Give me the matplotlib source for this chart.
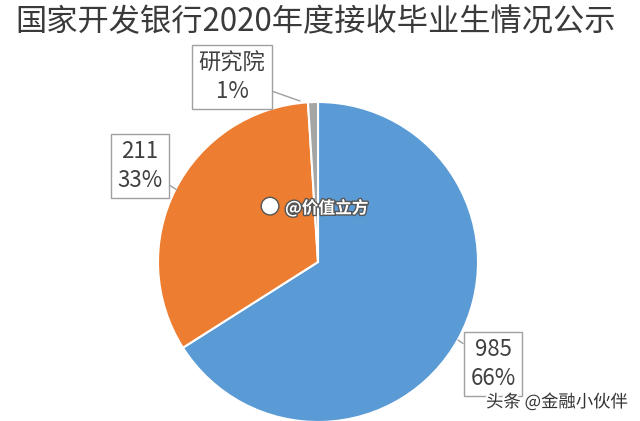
import matplotlib
matplotlib.use("Agg")
import matplotlib.pyplot as plt
import matplotlib.patheffects as pe
import numpy as np

plt.rcParams['font.family'] = ['Noto Sans CJK SC', 'DejaVu Sans']

title = "国家开发银行2020年度接收毕业生情况公示"
categories = ["985", "211", "研究院"]
shares = [66, 33, 1]
colors = ["#5B9BD5", "#ED7D31", "#A5A5A5"]

W, H = 640, 421
fig = plt.figure(figsize=(W / 100, H / 100), dpi=100, facecolor="white")

# pie axes: center (318, 262) px, radius 160 px
cx, cy, r = 318, 262, 160
ax = fig.add_axes([(cx - r) / W, 1 - (cy + r) / H, 2 * r / W, 2 * r / H])
wedges, _ = ax.pie(shares, colors=colors, startangle=90, counterclock=False,
                   wedgeprops=dict(edgecolor="white", linewidth=1.5))
ax.set_xlim(-1, 1)
ax.set_ylim(-1, 1)
ax.set_aspect("equal")
ax.axis("off")

fig.text(316 / W, 1 - 22 / H, title, ha="center", va="center",
         fontsize=22.5, color="#3a3a3a", fontweight="light")

label_pos = {"研究院": (232, 77), "211": (140, 166), "985": (493, 364)}
pointer_pos = {"研究院": (300, 101), "211": (177, 190), "985": (458, 340)}
for cat, val in zip(categories, shares):
    tx, ty = label_pos[cat]
    px, py = pointer_pos[cat]
    ax.annotate(f"{cat}\n{val}%", xy=(px, H - py), xycoords="figure pixels",
                xytext=(tx, H - ty), textcoords="figure pixels",
                ha="center", va="center", fontsize=16, color="#404040",
                linespacing=1.3, fontweight="light",
                bbox=dict(boxstyle="square,pad=0.3", fc="white", ec="#a0a0a0", lw=1),
                arrowprops=dict(arrowstyle="-", color="#a0a0a0", lw=1,
                                shrinkA=0, shrinkB=0),
                annotation_clip=False)

# watermarks
fig.text(285 / W, 1 - 208 / H, "@价值立方", ha="left", va="center", fontsize=12,
         color="white", fontweight="bold",
         path_effects=[pe.withStroke(linewidth=2, foreground="#555555")])
fig.text(270 / W, 1 - 208 / H, "●", ha="center", va="center", fontsize=13,
         color="white",
         path_effects=[pe.withStroke(linewidth=2, foreground="#555555")])
fig.text(628 / W, 1 - 402 / H, "头条 @金融小伙伴", ha="right", va="center",
         fontsize=12.5, color="#333333",
         path_effects=[pe.withStroke(linewidth=3, foreground="white")])

fig.savefig("out.png", dpi=100, facecolor="white")
